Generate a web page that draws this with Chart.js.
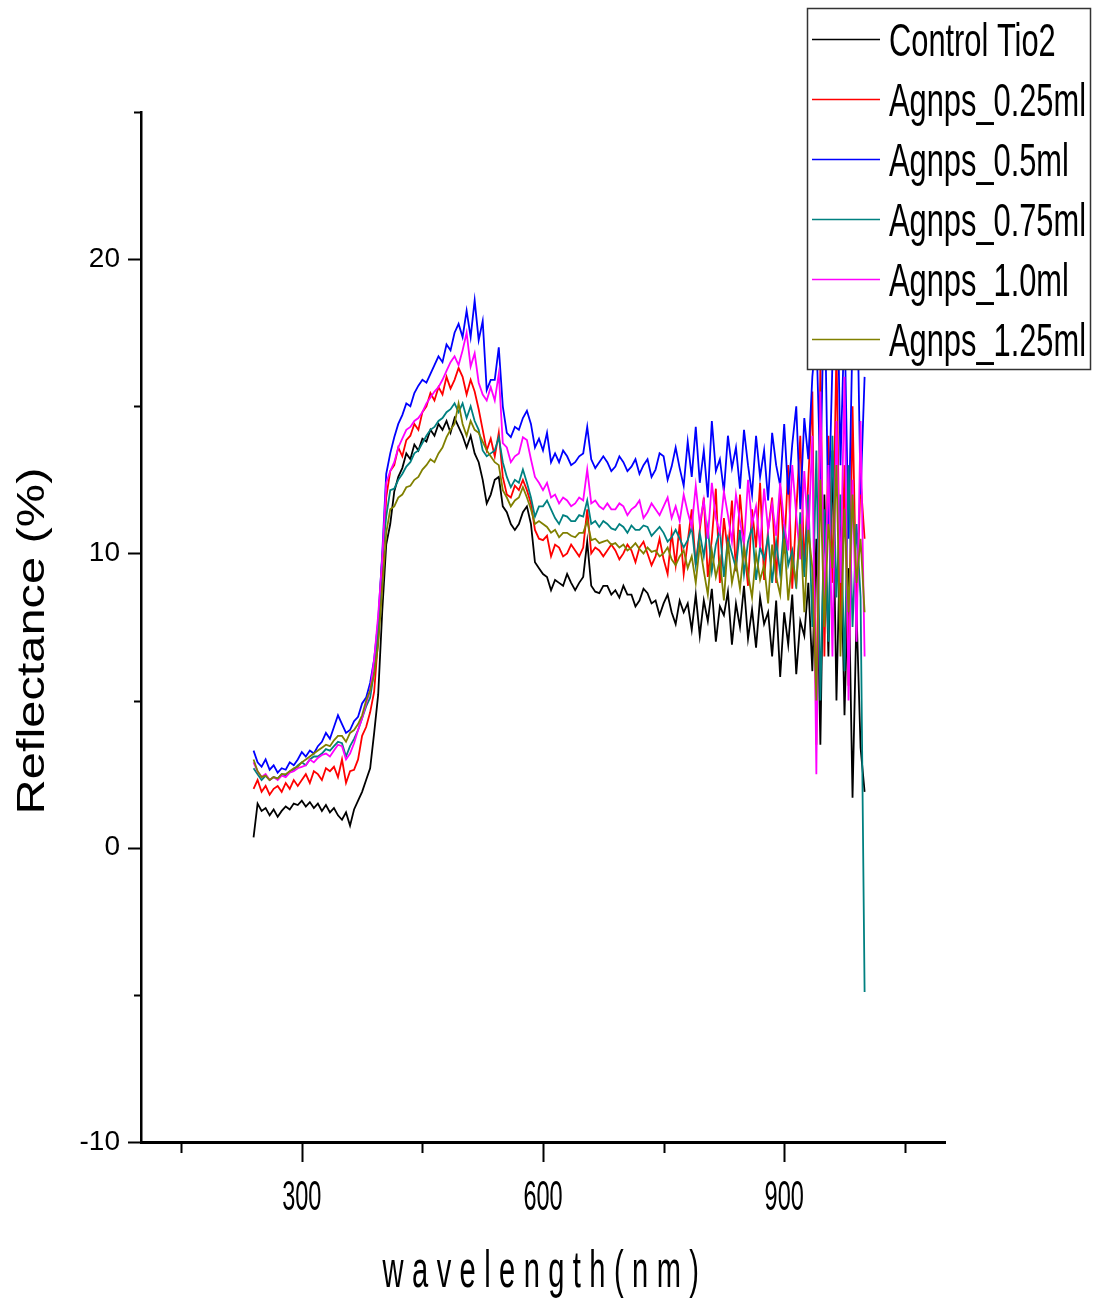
<!DOCTYPE html>
<html>
<head>
<meta charset="utf-8">
<title>Reflectance</title>
<script src="https://cdn.jsdelivr.net/npm/chart.js@4"></script>
<style>
  body { margin: 0; background: #fff; }
  #wrap { width: 1101px; height: 1302px; position: relative; }
</style>
</head>
<body>
<div id="wrap"><canvas id="grafico"></canvas></div>
<script>
// wavelength (nm) sample points
const wavelength = [
  240, 245, 250, 255, 260, 265, 270, 275, 280, 285,
  290, 295, 300, 305, 310, 315, 320, 325, 330, 335,
  340, 345, 350, 355, 360, 365, 370, 375, 380, 385,
  390, 395, 400, 405, 410, 415, 420, 425, 430, 435,
  440, 445, 450, 455, 460, 465, 470, 475, 480, 485,
  490, 495, 500, 505, 510, 515, 520, 525, 530, 535,
  540, 545, 550, 555, 560, 565, 570, 575, 580, 585,
  590, 595, 600, 605, 610, 615, 620, 625, 630, 635,
  640, 645, 650, 655, 660, 665, 670, 675, 680, 685,
  690, 695, 700, 705, 710, 715, 720, 725, 730, 735,
  740, 745, 750, 755, 760, 765, 770, 775, 780, 785,
  790, 795, 800, 805, 810, 815, 820, 825, 830, 835,
  840, 845, 850, 855, 860, 865, 870, 875, 880, 885,
  890, 895, 900, 905, 910, 915, 920, 925, 930, 935,
  940, 945, 950, 955, 960, 965, 970, 975, 980, 985,
  990, 995, 1000
];

// reflectance (%) per sample
const controlTio2 = [
  0.35, 1.5, 1.25, 1.35, 1.1, 1.3, 1.05, 1.25, 1.4, 1.3,
  1.5, 1.45, 1.6, 1.4, 1.55, 1.35, 1.5, 1.25, 1.45, 1.2,
  1.35, 1.1, 0.95, 1.2, 0.75, 1.3, 1.6, 1.9, 2.3, 2.7,
  3.9, 5.2, 8.0, 10.3, 11.0, 12.1, 12.6, 12.9, 13.4, 13.2,
  13.7, 13.5, 13.9, 13.8, 14.2, 14.0, 14.4, 14.2, 14.5, 14.1,
  14.6, 14.3, 14.0, 13.6, 14.0, 13.4, 13.1, 12.5, 11.7, 12.0,
  12.5, 12.6, 11.6, 11.4, 11.0, 10.8, 11.0, 11.4, 11.6, 11.0,
  9.7, 9.5, 9.3, 9.2, 8.75, 9.1, 9.0, 8.9, 9.3, 9.0,
  8.75, 9.0, 9.2, 10.4, 8.9, 8.7, 8.65, 8.9, 8.9, 8.6,
  8.75, 8.5, 8.9, 8.6, 8.6, 8.2, 8.4, 8.8, 8.65, 8.3,
  8.4, 7.9, 8.3, 8.6, 8.0, 7.6, 8.4, 8.0, 8.3, 7.4,
  8.6, 7.2, 8.4, 7.7, 8.8, 7.0, 8.2, 7.9, 8.7, 6.9,
  8.3, 7.5, 8.9, 7.1, 8.1, 6.8, 8.5, 7.6, 8.0, 6.5,
  8.4, 5.8, 8.0, 6.9, 8.6, 5.9, 7.7, 7.2, 9.0, 6.0,
  10.5, 3.5, 12.0, 6.5, 13.5, 5.0, 11.0, 4.5, 9.5, 1.7,
  8.0, 3.4, 1.9
];
const agnps025 = [
  2.0, 2.3, 1.9, 2.1, 1.8, 2.0, 2.1, 1.9, 2.2, 2.0,
  2.3, 2.1, 2.3, 2.5, 2.2, 2.6, 2.5, 2.3, 2.7, 2.6,
  2.75, 2.4, 3.0, 2.2, 2.6, 2.65, 3.0, 3.8, 4.1, 4.6,
  5.3, 7.1, 9.3, 11.9, 12.8, 13.0, 13.6, 13.3, 13.85, 14.0,
  14.4, 14.2, 14.8, 15.0, 15.45, 15.2, 15.65, 15.4, 16.0, 15.6,
  15.9, 16.3, 16.0, 15.4, 15.9, 15.5, 14.9, 14.2, 13.5, 13.9,
  13.3, 14.1, 12.6, 12.0, 11.9, 12.3, 12.15, 12.5, 12.15, 11.7,
  10.8, 10.5, 10.45, 10.6, 9.9, 10.3, 10.2, 9.9, 10.0, 10.3,
  10.1, 9.9, 10.2, 11.5, 10.0, 10.2, 10.1, 9.9, 10.1, 10.3,
  10.1, 9.8, 10.0, 10.3, 10.1, 9.7, 10.2, 10.4, 10.0, 9.6,
  9.9, 10.5, 9.8, 9.3, 10.7, 9.6, 11.0, 9.3, 10.4, 11.5,
  9.6, 10.8, 11.9, 9.2, 10.5, 12.2, 9.0, 11.2, 10.0, 11.8,
  9.4, 12.0, 10.3, 8.9, 11.5, 10.2, 12.4, 9.1, 10.8, 11.9,
  9.0, 12.3, 10.0, 13.0, 8.8, 11.4, 14.0, 9.5, 12.5, 15.5,
  3.5, 16.5, 6.5, 14.0, 9.0, 17.0, 7.5, 13.0, 5.5, 15.0,
  8.0, 12.5, 10.5
];
const agnps05 = [
  3.3, 2.9, 2.75, 3.0, 2.65, 2.8, 2.55, 2.7, 2.65, 2.9,
  2.8, 3.0, 3.25, 3.1, 3.3, 3.2, 3.45, 3.6, 3.9, 3.7,
  4.1, 4.5, 4.2, 3.9, 4.0, 4.3, 4.45, 4.9, 5.1, 5.6,
  6.4, 7.7, 9.95, 12.7, 13.4, 13.95, 14.4, 14.7, 15.1, 15.0,
  15.45, 15.7, 15.9, 15.8, 16.1, 16.4, 16.7, 16.5, 17.1, 16.9,
  17.5, 17.8, 17.35, 18.25, 17.35, 18.6, 17.25, 17.9, 15.55, 15.9,
  15.9, 17.0, 15.0, 14.1, 13.95, 14.3, 14.2, 14.6, 14.85, 14.4,
  13.6, 13.9, 13.5, 14.1, 13.1, 13.4, 13.1, 13.5, 13.3, 13.0,
  13.1, 13.3, 13.4, 14.3, 13.2, 12.9, 13.1, 13.3, 13.1, 12.8,
  12.95, 13.3, 13.1, 12.8, 12.95, 13.2, 12.7, 13.0, 13.2, 12.6,
  12.85, 13.4, 13.3, 12.5, 12.95, 13.6, 12.9, 12.3, 13.8, 12.6,
  14.3, 12.4, 13.5, 11.9, 14.5, 12.8, 13.2, 12.1, 14.0, 12.9,
  13.6, 12.2, 14.2, 13.0, 12.0, 14.0, 12.6, 13.5, 11.8, 14.1,
  13.0, 12.3, 14.4, 12.0, 13.7, 15.0, 11.5, 14.6, 13.2, 16.0,
  17.5, 12.5, 19.5, 11.0, 16.5, 21.0, 13.0, 18.0, 10.5, 17.5,
  20.0, 12.0, 16.0
];
const agnps075 = [
  2.7, 2.5, 2.3, 2.45, 2.3, 2.4, 2.35, 2.5, 2.45, 2.6,
  2.65, 2.8, 2.9, 2.8, 3.0, 3.1, 3.1, 3.2, 3.35, 3.3,
  3.45, 3.6, 3.55, 3.1, 3.45, 3.7, 4.0, 4.4, 4.8, 5.1,
  6.0, 7.4, 9.9, 11.25, 12.15, 12.2, 12.5, 12.7, 12.95, 13.1,
  13.4, 13.5, 13.75, 14.0, 14.2, 14.3, 14.5, 14.6, 14.8, 14.9,
  15.1, 14.8, 15.1, 14.6, 15.0, 14.5, 14.2, 13.5, 13.3, 13.4,
  13.5, 13.95, 13.1, 12.6, 12.25, 12.5, 12.4, 12.85, 12.4, 11.9,
  11.25, 11.6, 11.6, 11.8, 11.5, 11.2, 11.0, 11.3, 11.25, 11.1,
  11.1, 11.3, 11.25, 11.8, 11.0, 11.1, 10.9, 11.1, 11.0, 10.85,
  10.8, 11.0, 10.9, 10.7, 10.95, 10.8, 10.8, 10.95, 10.9, 10.6,
  10.75, 10.9, 10.7, 10.4, 10.55, 10.8, 10.5, 10.2, 10.45, 10.9,
  9.6, 10.7, 9.9, 10.9, 9.4, 10.3, 10.8, 9.2, 10.5, 10.0,
  9.5, 10.8, 9.3, 10.4, 10.9, 9.1, 10.2, 9.8, 10.6, 9.0,
  10.4, 9.3, 11.0, 9.6, 10.1, 8.8, 11.4, 9.2, 12.0, 7.5,
  13.5, 5.0, 11.5, 7.0, 14.0, 8.5, 12.0, 6.0, 13.0, 7.5,
  11.0, 8.5, -4.9
];
const agnps10 = [
  2.9, 2.6, 2.4, 2.5, 2.3, 2.4, 2.3, 2.45, 2.4, 2.55,
  2.6, 2.7, 2.75, 2.8, 3.0, 2.9, 3.05, 3.15, 3.2, 3.1,
  3.3, 3.5, 3.45, 3.0, 3.2, 3.55, 4.0, 4.4, 4.9, 5.35,
  6.4, 7.9, 9.8, 12.4, 12.8, 13.1, 13.6, 13.9, 14.2, 14.3,
  14.5, 14.6, 14.8, 15.1, 15.3, 15.5, 15.65, 15.9, 16.2, 16.5,
  16.7, 16.4, 16.9, 17.5, 16.35, 16.8, 15.8, 15.4, 15.2, 15.65,
  15.2, 16.1, 13.75, 13.6, 13.1, 13.3, 13.4, 13.95, 13.85, 13.2,
  12.6, 12.4, 12.15, 12.4, 11.9, 12.0, 11.7, 11.9, 11.8, 11.6,
  11.7, 11.9, 11.8, 12.85, 11.7, 11.8, 11.6, 11.5, 11.7, 11.5,
  11.5, 11.7, 11.6, 11.3, 11.5, 11.6, 11.8, 11.2, 11.4, 11.7,
  11.5, 11.3, 11.6, 11.9, 11.2, 11.6, 11.1, 12.0, 11.4, 10.9,
  12.3, 11.0, 11.8, 10.5, 12.4, 11.2, 10.7, 12.1, 11.3, 10.4,
  12.0, 11.1, 10.3, 12.5, 11.0, 11.6, 10.2, 12.2, 10.8, 11.7,
  10.6, 12.4, 11.0, 10.1, 13.0, 11.3, 9.8, 12.8, 10.5, 14.0,
  2.5, 15.5, 8.0, 13.0, 6.5, 14.5, 9.0, 16.0, 5.0, 12.5,
  7.0, 14.5, 6.5
];
const agnps125 = [
  3.0, 2.6, 2.4, 2.45, 2.3, 2.4, 2.35, 2.5, 2.5, 2.6,
  2.7, 2.75, 2.9, 3.0, 3.1, 3.2, 3.3, 3.4, 3.5, 3.45,
  3.65, 3.8, 3.8, 3.6, 3.9, 4.0, 4.2, 4.5, 5.0, 5.35,
  5.9, 6.9, 8.75, 10.7, 11.5, 11.6, 11.9, 12.0, 12.25, 12.3,
  12.5, 12.6, 12.85, 13.0, 13.2, 13.1, 13.4, 13.6, 13.95, 14.2,
  14.4, 15.1, 14.4, 14.0, 14.5, 14.2, 14.1, 13.8, 13.5, 13.3,
  13.1, 13.0, 12.15, 11.9, 11.6, 11.8, 11.9, 12.25, 11.9, 11.5,
  11.0, 11.1, 11.0, 10.9, 10.7, 10.8, 10.55, 10.7, 10.7, 10.6,
  10.55, 10.7, 10.7, 11.1, 10.45, 10.5, 10.35, 10.4, 10.45, 10.3,
  10.35, 10.2, 10.3, 10.1, 10.2, 10.35, 10.15, 10.0, 10.2, 10.05,
  10.1, 9.9, 10.0, 10.2, 9.8, 9.6, 9.9, 10.1, 9.5, 9.9,
  9.0, 10.3, 9.4, 8.6, 10.1, 9.2, 9.8, 8.4, 10.4, 9.0,
  9.7, 8.8, 10.2, 9.3, 8.5, 10.0, 9.1, 9.6, 8.3, 10.3,
  9.2, 8.6, 10.5, 8.4, 9.8, 9.0, 11.0, 8.0, 10.8, 9.5,
  5.0, 12.5, 7.5, 11.0, 9.5, 13.0, 6.5, 11.5, 8.0, 12.0,
  9.0, 10.5, 8.0
];

const seriesNames = ['Control Tio2', 'Agnps_0.25ml', 'Agnps_0.5ml', 'Agnps_0.75ml', 'Agnps_1.0ml', 'Agnps_1.25ml'];
const seriesColors = ['#000000', '#ff0000', '#0000ff', '#008080', '#ff00ff', '#808000'];
const seriesValues = [controlTio2, agnps025, agnps05, agnps075, agnps10, agnps125];

// axis ticks
const xTickLabels = [300, 600, 900];
const xMinorTicks = [150, 450, 750, 1050];
const yTickLabels = [-10, 0, 10, 20];
const yMinorTicks = [-5, 5, 15, 25];

const FONT = '"Liberation Sans", Arial, sans-serif';

// desenha ticks, rótulos do eixo x, títulos e a legenda (fontes condensadas como no original)
const decor = {
    id: 'decor',
    afterDraw(chart) {
        const ctx = chart.ctx;
        const xs = chart.scales.x;
        const ys = chart.scales.y;
        const area = chart.chartArea;

        ctx.save();
        ctx.strokeStyle = '#000';
        ctx.lineWidth = 2;
        ctx.beginPath();
        yTickLabels.forEach(v => {
            const p = Math.round(ys.getPixelForValue(v)) + 0.5;
            ctx.moveTo(area.left - 13, p); ctx.lineTo(area.left, p);
        });
        yMinorTicks.forEach(v => {
            const p = Math.round(ys.getPixelForValue(v)) + 0.5;
            ctx.moveTo(area.left - 7, p); ctx.lineTo(area.left, p);
        });
        xTickLabels.forEach(v => {
            const p = Math.round(xs.getPixelForValue(v)) + 0.5;
            ctx.moveTo(p, area.bottom); ctx.lineTo(p, area.bottom + 20);
        });
        xMinorTicks.forEach(v => {
            const p = Math.round(xs.getPixelForValue(v)) + 0.5;
            ctx.moveTo(p, area.bottom); ctx.lineTo(p, area.bottom + 11);
        });
        ctx.stroke();

        // x tick labels
        ctx.fillStyle = '#000';
        ctx.textAlign = 'center';
        ctx.textBaseline = 'alphabetic';
        ctx.font = '42px ' + FONT;
        xTickLabels.forEach(v => {
            const p = xs.getPixelForValue(v);
            ctx.save();
            ctx.translate(p, 1210);
            ctx.scale(0.56, 1);
            ctx.fillText(String(v), 0, 0);
            ctx.restore();
        });

        // x title
        ctx.save();
        ctx.translate(545, 1287);
        ctx.scale(0.56, 1);
        ctx.font = '52px ' + FONT;
        ctx.letterSpacing = '15px';
        ctx.fillText(xs.options.title.text, 0, 0);
        ctx.restore();

        // y title
        ctx.save();
        ctx.translate(44, 641);
        ctx.rotate(-Math.PI / 2);
        ctx.scale(1.25, 1);
        ctx.font = '39px ' + FONT;
        ctx.textAlign = 'center';
        ctx.fillText(ys.options.title.text, 0, 0);
        ctx.restore();

        // legenda
        ctx.fillStyle = '#fff';
        ctx.fillRect(807, 8, 283, 361);
        ctx.strokeStyle = '#333';
        ctx.lineWidth = 1.5;
        ctx.strokeRect(807.5, 8.5, 283, 361);
        chart.data.datasets.forEach((ds, i) => {
            const y = 39 + i * 60;
            ctx.strokeStyle = ds.borderColor;
            ctx.lineWidth = 1.5;
            ctx.beginPath();
            ctx.moveTo(812, y + 0.5); ctx.lineTo(880, y + 0.5);
            ctx.stroke();
            ctx.save();
            ctx.translate(889, y + 17);
            ctx.scale(0.67, 1);
            ctx.font = '46px ' + FONT;
            ctx.fillStyle = '#000';
            ctx.textAlign = 'left';
            ctx.fillText(ds.label, 0, 0);
            ctx.restore();
        });
        ctx.restore();
    }
};

const datasets = seriesNames.map((name, i) => ({
    label: name,
    data: wavelength.map((nm, k) => ({ x: nm, y: seriesValues[i][k] })),
    borderColor: seriesColors[i],
    borderWidth: 1.8,
    pointRadius: 0,
    tension: 0,
    fill: false,
    order: seriesNames.length - i
}));

new Chart(document.getElementById('grafico').getContext('2d'), {
    type: 'line',
    data: { datasets: datasets },
    options: {
        responsive: true,
        maintainAspectRatio: false,
        animation: false,
        layout: { padding: { left: 0, right: 156, top: 112, bottom: 0 } },
        plugins: {
            legend: { display: false },
            tooltip: { enabled: false }
        },
        scales: {
            x: {
                type: 'linear',
                min: 100,
                max: 1100,
                grid: { display: false },
                border: { display: true, color: '#000', width: 3 },
                ticks: { display: false },
                title: { display: false, text: 'wavelength(nm)' },
                afterBuildTicks: s => { s.ticks = xTickLabels.map(v => ({ value: v })); },
                afterFit: s => { s.height = 160; }
            },
            y: {
                type: 'linear',
                min: -10,
                max: 25,
                grid: { display: false },
                border: { display: true, color: '#000', width: 2.5 },
                ticks: {
                    color: '#000',
                    padding: 13,
                    font: { family: FONT, size: 28 }
                },
                title: { display: false, text: 'Reflectance (%)' },
                afterBuildTicks: s => { s.ticks = yTickLabels.map(v => ({ value: v })); },
                afterFit: s => { s.width = 141; }
            }
        }
    },
    plugins: [decor]
});
</script>
</body>
</html>
